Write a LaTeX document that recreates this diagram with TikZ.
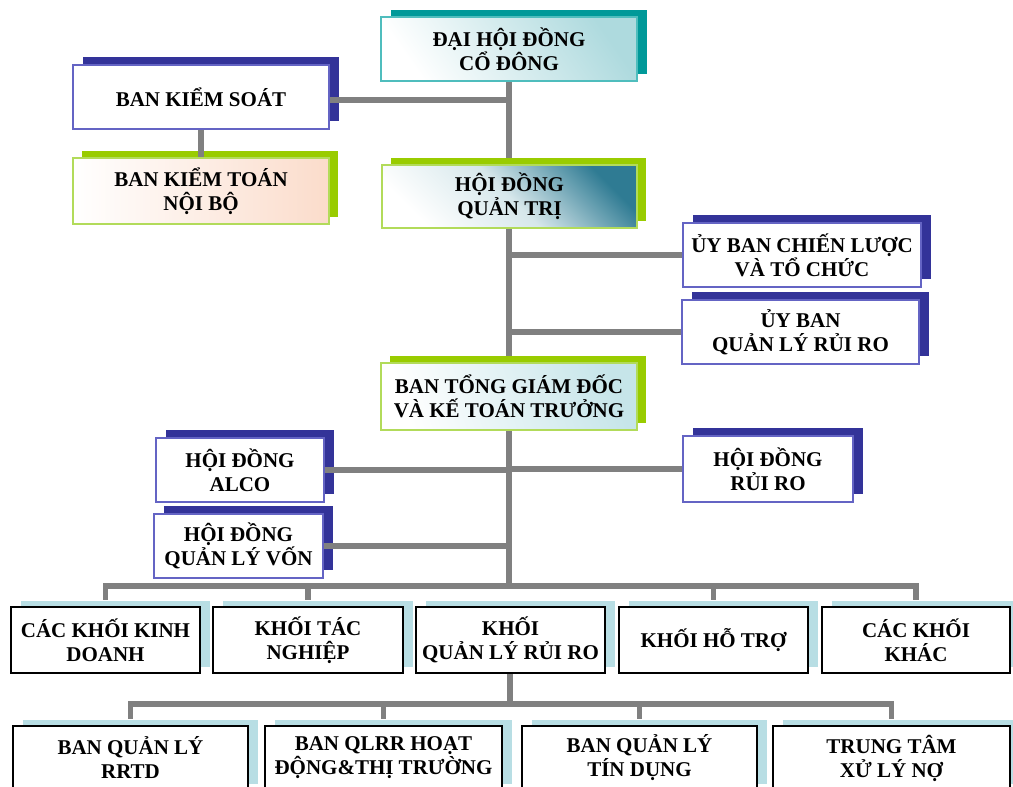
\documentclass[tikz,border=0pt]{standalone}
\usepackage{fontspec}
\setmainfont{Liberation Serif}
\usetikzlibrary{shadows}
\definecolor{navysh}{HTML}{333399}
\definecolor{navyln}{HTML}{6464C4}
\definecolor{tealsh}{HTML}{009999}
\definecolor{tealln}{HTML}{4FBDBD}
\definecolor{greensh}{HTML}{99CC00}
\definecolor{greenln}{HTML}{B2DB5A}
\definecolor{bluesh}{HTML}{B8DEE4}
\definecolor{conn}{HTML}{808080}
\definecolor{tealgrad}{HTML}{AEDADE}
\definecolor{darkgrad}{HTML}{2F7B93}
\definecolor{midgrad}{HTML}{D6E7EB}
\definecolor{peach}{HTML}{FBDCCB}
\definecolor{lteal}{HTML}{C6E5E9}
\begin{document}
\begin{tikzpicture}[x=1pt,y=-1pt,
  box/.style={draw, line width=1.3pt, align=center, inner sep=2pt,
    font=\fontsize{21}{24}\selectfont\bfseries, text=black},
  navyb/.style={box, fill=white, draw=navyln,
    general shadow={fill=navysh, shadow xshift=9.5pt, shadow yshift=8.5pt}},
  tealb/.style={box, draw=tealln,
    general shadow={fill=tealsh, shadow xshift=9.5pt, shadow yshift=7.5pt}},
  greenb/.style={box, draw=greenln,
    general shadow={fill=greensh, shadow xshift=9pt, shadow yshift=7pt}},
  rowb/.style={box, fill=white, draw=black,
    general shadow={fill=bluesh, shadow xshift=9.5pt, shadow yshift=6.5pt}},
  link/.style={draw=conn, line width=5.5pt, line join=miter}]
\useasboundingbox (0,0) rectangle (1013,787);
\clip (0,0) rectangle (1013,787);

% coordinates for trunk and buses
\coordinate (bus1) at (509,586);
\coordinate (bus2) at (510,704);
\coordinate (trunkTop) at (509,81);
\coordinate (trunkMid) at (509,363);
\coordinate (trunkBot) at (509,430);
\coordinate (kqOut) at (510,673);
\draw[link] (trunkTop) -- (trunkMid);
\draw[link] (trunkBot) -- (bus1);
\draw[link] (kqOut) -- (bus2);

% boxes
\node[tealb, minimum width=256pt, minimum height=64pt,
  top color=tealgrad, bottom color=white, shading angle=305] (dhd) at (509,49) {ĐẠI HỘI ĐỒNG\\CỔ ĐÔNG};
\node[greenb, minimum width=255pt, minimum height=63pt,
  top color=darkgrad, bottom color=white, middle color=midgrad, shading angle=315] (hdqt) at (509.5,196.5) {HỘI ĐỒNG\\QUẢN TRỊ};
\node[navyb, minimum width=256pt, minimum height=64pt] (bks) at (201,97) {BAN KIỂM SOÁT};
\node[greenb, minimum width=256pt, minimum height=66pt,
  left color=white, right color=peach] (bktnb) at (201,191) {BAN KIỂM TOÁN\\NỘI BỘ};
\node[navyb, minimum width=238pt, minimum height=64pt] (ubcl) at (802,255) {ỦY BAN CHIẾN LƯỢC\\VÀ TỔ CHỨC};
\node[navyb, minimum width=237pt, minimum height=64pt] (ubrr) at (800.5,332) {ỦY BAN\\QUẢN LÝ RỦI RO};
\node[greenb, minimum width=256pt, minimum height=67pt,
  top color=lteal, bottom color=white, shading angle=290] (tgd) at (509,396.5) {BAN TỔNG GIÁM ĐỐC\\VÀ KẾ TOÁN TRƯỞNG};
\node[navyb, minimum width=168pt, minimum height=64pt] (alco) at (240,470) {HỘI ĐỒNG\\ALCO};
\node[navyb, minimum width=169pt, minimum height=64pt] (hdv) at (238.5,546) {HỘI ĐỒNG\\QUẢN LÝ VỐN};
\node[navyb, minimum width=170pt, minimum height=66pt] (hdrr) at (768,469) {HỘI ĐỒNG\\RỦI RO};

\node[rowb, minimum width=189pt, minimum height=66pt] (k1) at (105.5,640) {CÁC KHỐI KINH\\DOANH};
\node[rowb, minimum width=190pt, minimum height=66pt] (k2) at (308,640) {KHỐI TÁC\\NGHIỆP};
\node[rowb, minimum width=189pt, minimum height=66pt] (k3) at (510.5,640) {KHỐI\\QUẢN LÝ RỦI RO};
\node[rowb, minimum width=189pt, minimum height=66pt] (k4) at (713.5,640) {KHỐI HỖ TRỢ};
\node[rowb, minimum width=188pt, minimum height=66pt] (k5) at (916,640) {CÁC KHỐI\\KHÁC};

\node[rowb, minimum width=235pt, minimum height=64pt] (b1) at (130.5,758) {BAN QUẢN LÝ\\RRTD};
\node[rowb, minimum width=237pt, minimum height=64pt] (b2) at (383.5,758) {BAN QLRR HOẠT\\ĐỘNG\&THỊ TRƯỜNG};
\node[rowb, minimum width=235pt, minimum height=64pt] (b3) at (639.5,758) {BAN QUẢN LÝ\\TÍN DỤNG};
\node[rowb, minimum width=237pt, minimum height=64pt] (b4) at (891.5,758) {TRUNG TÂM\\XỬ LÝ NỢ};

% side connectors
\draw[link] ([yshift=-3pt]bks.east) -- ([yshift=-3pt]bks.east -| dhd.south);
\draw[link] (bks.south) -- (bktnb.north);
\draw[link] (ubcl.west) -- (ubcl.west -| hdqt.south);
\draw[link] (ubrr.west) -- (ubrr.west -| hdqt.south);
\draw[link] (alco.east) -- (alco.east -| tgd.south);
\draw[link] (hdv.east) -- (hdv.east -| tgd.south);
\draw[link] (hdrr.west) -- (hdrr.west -| tgd.south);
% bus 1
\draw[link] ([yshift=6.5pt]k1.north) |- (bus1);
\draw[link] ([yshift=6.5pt]k2.north) |- (bus1);
\draw[link] ([yshift=6.5pt]k4.north) |- (bus1);
\draw[link] ([yshift=6.5pt]k5.north) |- (bus1);
% bus 2
\draw[link] ([yshift=6.5pt]b1.north) |- (bus2);
\draw[link] ([yshift=6.5pt]b2.north) |- (bus2);
\draw[link] ([yshift=6.5pt]b3.north) |- (bus2);
\draw[link] ([yshift=6.5pt]b4.north) |- (bus2);
\end{tikzpicture}
\end{document}
